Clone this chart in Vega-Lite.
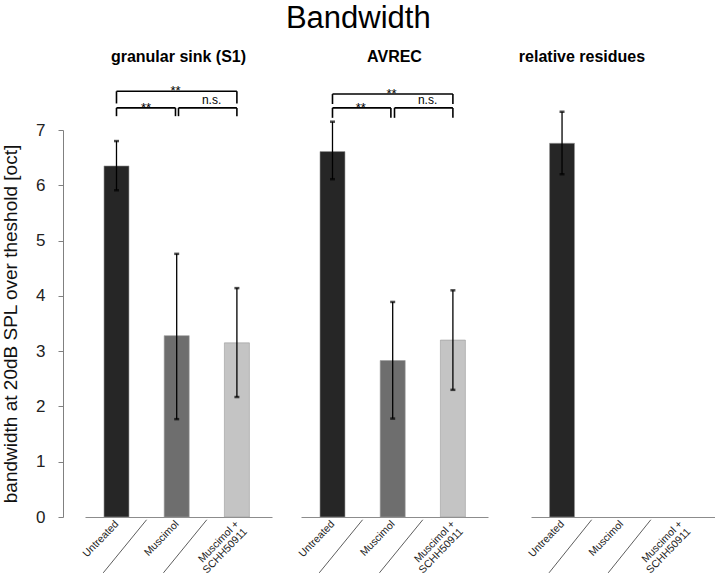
{
  "$schema": "https://vega.github.io/schema/vega-lite/v6.json",
  "padding": {"left": 1, "top": 2, "right": 0, "bottom": 0},
  "title": {"text": "Bandwidth", "fontSize": 31, "fontWeight": "normal", "anchor": "middle", "color": "#000", "offset": 14},
  "config": {
    "font": "Liberation Sans",
    "view": {"stroke": null},
    "axis": {"grid": false}
  },
  "datasets": {
    "d": [
      {"panel": "S1", "kind": "bar", "x": 1, "cond": "Untreated", "mean": 6.35, "lo": 5.91, "hi": 6.8},
      {"panel": "S1", "kind": "bar", "x": 2, "cond": "Muscimol", "mean": 3.28, "lo": 1.77, "hi": 4.76},
      {"panel": "S1", "kind": "bar", "x": 3, "cond": "Muscimol + SCHH50911", "mean": 3.15, "lo": 2.17, "hi": 4.14},
      {"panel": "AVREC", "kind": "bar", "x": 1, "cond": "Untreated", "mean": 6.61, "lo": 6.11, "hi": 7.15},
      {"panel": "AVREC", "kind": "bar", "x": 2, "cond": "Muscimol", "mean": 2.83, "lo": 1.78, "hi": 3.89},
      {"panel": "AVREC", "kind": "bar", "x": 3, "cond": "Muscimol + SCHH50911", "mean": 3.2, "lo": 2.3, "hi": 4.1},
      {"panel": "RR", "kind": "bar", "x": 1, "cond": "Untreated", "mean": 6.76, "lo": 6.2, "hi": 7.33},

      {"panel": "S1", "kind": "seg", "x": 1, "x2": 3, "y": 7.7, "y2": 7.7},
      {"panel": "S1", "kind": "seg", "x": 1, "x2": 1, "y": 7.48, "y2": 7.7},
      {"panel": "S1", "kind": "seg", "x": 3, "x2": 3, "y": 7.48, "y2": 7.7},
      {"panel": "S1", "kind": "seg", "x": 1, "x2": 1.98, "y": 7.4, "y2": 7.4},
      {"panel": "S1", "kind": "seg", "x": 1, "x2": 1, "y": 7.25, "y2": 7.4},
      {"panel": "S1", "kind": "seg", "x": 1.98, "x2": 1.98, "y": 7.25, "y2": 7.4},
      {"panel": "S1", "kind": "seg", "x": 2.03, "x2": 3, "y": 7.4, "y2": 7.4},
      {"panel": "S1", "kind": "seg", "x": 2.03, "x2": 2.03, "y": 7.25, "y2": 7.4},
      {"panel": "S1", "kind": "seg", "x": 3, "x2": 3, "y": 7.25, "y2": 7.4},

      {"panel": "AVREC", "kind": "seg", "x": 1, "x2": 3, "y": 7.65, "y2": 7.65},
      {"panel": "AVREC", "kind": "seg", "x": 1, "x2": 1, "y": 7.47, "y2": 7.65},
      {"panel": "AVREC", "kind": "seg", "x": 3, "x2": 3, "y": 7.47, "y2": 7.65},
      {"panel": "AVREC", "kind": "seg", "x": 1, "x2": 1.97, "y": 7.4, "y2": 7.4},
      {"panel": "AVREC", "kind": "seg", "x": 1, "x2": 1, "y": 7.22, "y2": 7.4},
      {"panel": "AVREC", "kind": "seg", "x": 1.97, "x2": 1.97, "y": 7.22, "y2": 7.4},
      {"panel": "AVREC", "kind": "seg", "x": 2.03, "x2": 3, "y": 7.4, "y2": 7.4},
      {"panel": "AVREC", "kind": "seg", "x": 2.03, "x2": 2.03, "y": 7.22, "y2": 7.4},
      {"panel": "AVREC", "kind": "seg", "x": 3, "x2": 3, "y": 7.22, "y2": 7.4},

      {"panel": "S1", "kind": "star", "x": 1.98, "y": 7.7, "label": "**"},
      {"panel": "S1", "kind": "star", "x": 1.49, "y": 7.4, "label": "**"},
      {"panel": "S1", "kind": "ns", "x": 2.58, "y": 7.4, "label": "n.s."},
      {"panel": "AVREC", "kind": "star", "x": 1.98, "y": 7.65, "label": "**"},
      {"panel": "AVREC", "kind": "star", "x": 1.47, "y": 7.4, "label": "**"},
      {"panel": "AVREC", "kind": "ns", "x": 2.58, "y": 7.4, "label": "n.s."},

      {"panel": "S1", "kind": "sep", "x": 1.5, "x2": 0.78, "y": -0.05, "y2": -1.01},
      {"panel": "S1", "kind": "sep", "x": 2.5, "x2": 1.78, "y": -0.05, "y2": -1.01},
      {"panel": "AVREC", "kind": "sep", "x": 1.5, "x2": 0.78, "y": -0.05, "y2": -1.01},
      {"panel": "AVREC", "kind": "sep", "x": 2.5, "x2": 1.78, "y": -0.05, "y2": -1.01},
      {"panel": "RR", "kind": "sep", "x": 1.5, "x2": 0.78, "y": -0.05, "y2": -1.01},
      {"panel": "RR", "kind": "sep", "x": 2.5, "x2": 1.78, "y": -0.05, "y2": -1.01}
    ]
  },
  "spacing": 30,
  "hconcat": [
    {
      "spacing": 24,
      "hconcat": [
        {
          "width": 187, "height": 387,
          "title": {"text": "granular sink (S1)", "fontSize": 16, "fontWeight": "bold", "color": "#000", "anchor": "middle", "frame": "group", "offset": 20},
          "data": {"name": "d"},
          "transform": [{"filter": "datum.panel == 'S1'"}],
          "layer": [
            {
              "transform": [{"filter": "datum.kind == 'bar'"}],
              "mark": {"type": "bar", "orient": "vertical", "size": 25, "stroke": "#9a9a9a", "strokeWidth": 0.6},
              "encoding": {
                "x": {"field": "x", "type": "quantitative", "scale": {"domain": [0.56, 3.5], "nice": false, "zero": false},
                  "axis": {"values": [1, 2, 3], "title": null, "grid": false, "ticks": false, "domainColor": "#8c8c8c", "labelAngle": -46, "labelAlign": "right", "labelBaseline": "middle", "labelFontSize": 10.5, "labelLineHeight": 11, "labelColor": "#222", "labelPadding": 5, "labelOverlap": false, "labelBound": false, "labelFlush": false,
                    "labelExpr": "datum.value == 1 ? 'Untreated' : datum.value == 2 ? 'Muscimol' : ['Muscimol +', 'SCHH50911']"}},
                "y": {"field": "mean", "type": "quantitative", "scale": {"domain": [0, 7], "nice": false, "zero": false},
                  "axis": {"values": [0, 1, 2, 3, 4, 5, 6, 7], "format": "d", "title": "bandwidth at 20dB SPL over theshold  [oct]", "grid": false, "offset": 22, "tickSize": 5, "tickColor": "#808080", "domainColor": "#808080", "labelFontSize": 17, "labelPadding": 13, "labelColor": "#222", "titleFontSize": 19, "titleFontWeight": "normal", "titleColor": "#111", "titlePadding": 15}},
                "color": {"field": "cond", "type": "nominal", "scale": {"domain": ["Untreated", "Muscimol", "Muscimol + SCHH50911"], "range": ["#262626", "#6e6e6e", "#c4c4c4"]}, "legend": null}
              }
            },
            {
              "transform": [{"filter": "datum.kind == 'bar'"}],
              "mark": {"type": "rule", "color": "#000", "strokeWidth": 1.3},
              "encoding": {
                "x": {"field": "x", "type": "quantitative"},
                "y": {"field": "lo", "type": "quantitative"},
                "y2": {"field": "hi"}
              }
            },
            {
              "transform": [{"filter": "datum.kind == 'bar'"}],
              "mark": {"type": "tick", "orient": "horizontal", "color": "#000", "size": 5, "thickness": 2.5},
              "encoding": {
                "x": {"field": "x", "type": "quantitative"},
                "y": {"field": "lo", "type": "quantitative"}
              }
            },
            {
              "transform": [{"filter": "datum.kind == 'bar'"}],
              "mark": {"type": "tick", "orient": "horizontal", "color": "#000", "size": 5, "thickness": 2.5},
              "encoding": {
                "x": {"field": "x", "type": "quantitative"},
                "y": {"field": "hi", "type": "quantitative"}
              }
            },
            {
              "transform": [{"filter": "datum.kind == 'seg'"}],
              "mark": {"type": "rule", "color": "#000", "strokeWidth": 1.6},
              "encoding": {
                "x": {"field": "x", "type": "quantitative"},
                "x2": {"field": "x2"},
                "y": {"field": "y", "type": "quantitative"},
                "y2": {"field": "y2"}
              }
            },
            {
              "transform": [{"filter": "datum.kind == 'star'"}],
              "mark": {"type": "text", "fontSize": 13, "baseline": "alphabetic", "dy": 4, "color": "#000"},
              "encoding": {
                "x": {"field": "x", "type": "quantitative"},
                "y": {"field": "y", "type": "quantitative"},
                "text": {"field": "label"}
              }
            },
            {
              "transform": [{"filter": "datum.kind == 'ns'"}],
              "mark": {"type": "text", "fontSize": 12, "baseline": "alphabetic", "dy": -4, "color": "#000"},
              "encoding": {
                "x": {"field": "x", "type": "quantitative"},
                "y": {"field": "y", "type": "quantitative"},
                "text": {"field": "label"}
              }
            },
            {
              "transform": [{"filter": "datum.kind == 'sep'"}],
              "mark": {"type": "rule", "color": "#333", "strokeWidth": 0.8},
              "encoding": {
                "x": {"field": "x", "type": "quantitative"},
                "x2": {"field": "x2"},
                "y": {"field": "y", "type": "quantitative"},
                "y2": {"field": "y2"}
              }
            }
          ]
        },
        {
          "width": 187, "height": 387,
          "title": {"text": "AVREC", "fontSize": 16, "fontWeight": "bold", "color": "#000", "anchor": "middle", "frame": "group", "offset": 23},
          "data": {"name": "d"},
          "transform": [{"filter": "datum.panel == 'AVREC'"}],
          "layer": [
            {
              "transform": [{"filter": "datum.kind == 'bar'"}],
              "mark": {"type": "bar", "orient": "vertical", "size": 25, "stroke": "#9a9a9a", "strokeWidth": 0.6},
              "encoding": {
                "x": {"field": "x", "type": "quantitative", "scale": {"domain": [0.56, 3.5], "nice": false, "zero": false},
                  "axis": {"values": [1, 2, 3], "title": null, "grid": false, "ticks": false, "domainColor": "#8c8c8c", "labelAngle": -46, "labelAlign": "right", "labelBaseline": "middle", "labelFontSize": 10.5, "labelLineHeight": 11, "labelColor": "#222", "labelPadding": 5, "labelOverlap": false, "labelBound": false, "labelFlush": false,
                    "labelExpr": "datum.value == 1 ? 'Untreated' : datum.value == 2 ? 'Muscimol' : ['Muscimol +', 'SCHH50911']"}},
                "y": {"field": "mean", "type": "quantitative", "scale": {"domain": [0, 7], "nice": false, "zero": false}, "axis": null},
                "color": {"field": "cond", "type": "nominal", "scale": {"domain": ["Untreated", "Muscimol", "Muscimol + SCHH50911"], "range": ["#262626", "#6e6e6e", "#c4c4c4"]}, "legend": null}
              }
            },
            {
              "transform": [{"filter": "datum.kind == 'bar'"}],
              "mark": {"type": "rule", "color": "#000", "strokeWidth": 1.3},
              "encoding": {
                "x": {"field": "x", "type": "quantitative"},
                "y": {"field": "lo", "type": "quantitative", "axis": null},
                "y2": {"field": "hi"}
              }
            },
            {
              "transform": [{"filter": "datum.kind == 'bar'"}],
              "mark": {"type": "tick", "orient": "horizontal", "color": "#000", "size": 5, "thickness": 2.5},
              "encoding": {
                "x": {"field": "x", "type": "quantitative"},
                "y": {"field": "lo", "type": "quantitative", "axis": null}
              }
            },
            {
              "transform": [{"filter": "datum.kind == 'bar'"}],
              "mark": {"type": "tick", "orient": "horizontal", "color": "#000", "size": 5, "thickness": 2.5},
              "encoding": {
                "x": {"field": "x", "type": "quantitative"},
                "y": {"field": "hi", "type": "quantitative", "axis": null}
              }
            },
            {
              "transform": [{"filter": "datum.kind == 'seg'"}],
              "mark": {"type": "rule", "color": "#000", "strokeWidth": 1.6},
              "encoding": {
                "x": {"field": "x", "type": "quantitative"},
                "x2": {"field": "x2"},
                "y": {"field": "y", "type": "quantitative", "axis": null},
                "y2": {"field": "y2"}
              }
            },
            {
              "transform": [{"filter": "datum.kind == 'star'"}],
              "mark": {"type": "text", "fontSize": 13, "baseline": "alphabetic", "dy": 4, "color": "#000"},
              "encoding": {
                "x": {"field": "x", "type": "quantitative"},
                "y": {"field": "y", "type": "quantitative", "axis": null},
                "text": {"field": "label"}
              }
            },
            {
              "transform": [{"filter": "datum.kind == 'ns'"}],
              "mark": {"type": "text", "fontSize": 12, "baseline": "alphabetic", "dy": -4, "color": "#000"},
              "encoding": {
                "x": {"field": "x", "type": "quantitative"},
                "y": {"field": "y", "type": "quantitative", "axis": null},
                "text": {"field": "label"}
              }
            },
            {
              "transform": [{"filter": "datum.kind == 'sep'"}],
              "mark": {"type": "rule", "color": "#333", "strokeWidth": 0.8},
              "encoding": {
                "x": {"field": "x", "type": "quantitative"},
                "x2": {"field": "x2"},
                "y": {"field": "y", "type": "quantitative", "axis": null},
                "y2": {"field": "y2"}
              }
            }
          ]
        }
      ]
    },
    {
      "width": 184, "height": 387,
      "title": {"text": "relative residues", "fontSize": 16, "fontWeight": "bold", "color": "#000", "anchor": "middle", "frame": "group", "offset": 46, "dx": -41},
      "data": {"name": "d"},
      "transform": [{"filter": "datum.panel == 'RR'"}],
      "layer": [
        {
          "transform": [{"filter": "datum.kind == 'bar'"}],
          "mark": {"type": "bar", "orient": "vertical", "size": 25, "stroke": "#9a9a9a", "strokeWidth": 0.6},
          "encoding": {
            "x": {"field": "x", "type": "quantitative", "scale": {"domain": [0.56, 3.5], "nice": false, "zero": false},
              "axis": {"values": [1, 2, 3], "title": null, "grid": false, "ticks": false, "domainColor": "#8c8c8c", "labelAngle": -46, "labelAlign": "right", "labelBaseline": "middle", "labelFontSize": 10.5, "labelLineHeight": 11, "labelColor": "#222", "labelPadding": 5, "labelOverlap": false, "labelBound": false, "labelFlush": false,
                "labelExpr": "datum.value == 1 ? 'Untreated' : datum.value == 2 ? 'Muscimol' : ['Muscimol +', 'SCHH50911']"}},
            "y": {"field": "mean", "type": "quantitative", "scale": {"domain": [0, 7], "nice": false, "zero": false}, "axis": null},
            "color": {"field": "cond", "type": "nominal", "scale": {"domain": ["Untreated", "Muscimol", "Muscimol + SCHH50911"], "range": ["#262626", "#6e6e6e", "#c4c4c4"]}, "legend": null}
          }
        },
        {
          "transform": [{"filter": "datum.kind == 'bar'"}],
          "mark": {"type": "rule", "color": "#000", "strokeWidth": 1.3},
          "encoding": {
            "x": {"field": "x", "type": "quantitative"},
            "y": {"field": "lo", "type": "quantitative", "axis": null},
            "y2": {"field": "hi"}
          }
        },
        {
          "transform": [{"filter": "datum.kind == 'bar'"}],
          "mark": {"type": "tick", "orient": "horizontal", "color": "#000", "size": 5, "thickness": 2.5},
          "encoding": {
            "x": {"field": "x", "type": "quantitative"},
            "y": {"field": "lo", "type": "quantitative", "axis": null}
          }
        },
        {
          "transform": [{"filter": "datum.kind == 'bar'"}],
          "mark": {"type": "tick", "orient": "horizontal", "color": "#000", "size": 5, "thickness": 2.5},
          "encoding": {
            "x": {"field": "x", "type": "quantitative"},
            "y": {"field": "hi", "type": "quantitative", "axis": null}
          }
        },
        {
          "transform": [{"filter": "datum.kind == 'sep'"}],
          "mark": {"type": "rule", "color": "#333", "strokeWidth": 0.8},
          "encoding": {
            "x": {"field": "x", "type": "quantitative"},
            "x2": {"field": "x2"},
            "y": {"field": "y", "type": "quantitative", "axis": null},
            "y2": {"field": "y2"}
          }
        }
      ]
    }
  ]
}
